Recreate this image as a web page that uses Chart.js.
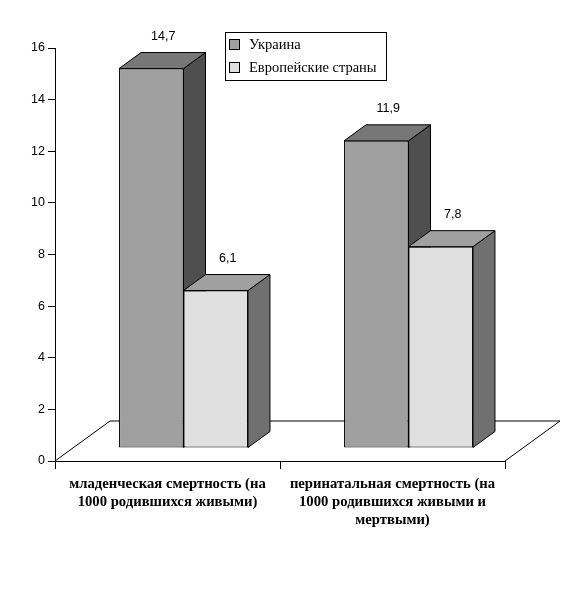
<!DOCTYPE html>
<html>
<head>
<meta charset="utf-8">
<script src="https://cdn.jsdelivr.net/npm/chart.js@4.4.0/dist/chart.umd.min.js"></script>
<style>
  html, body { margin: 0; padding: 0; background: #fff; }
  #wrap { width: 586px; height: 596px; }
</style>
</head>
<body>
<div id="wrap"><canvas id="chart"></canvas></div>
<script>
// data
const categories = [
  ["младенческая смертность (на", "1000 родившихся живыми)"],
  ["перинатальная смертность (на", "1000 родившихся живыми и", "мертвыми)"]
];
const seriesNames = ["Украина", "Европейские страны"];
const ukraineValues = [14.7, 11.9];
const europeValues = [6.1, 7.8];
const valueLabels = [["14,7", "11,9"], ["6,1", "7,8"]];

const frontColors = ["#a0a0a0", "#e0e0e0"];
const topColors = ["#777777", "#a0a0a0"];
const sideColors = ["#4f4f4f", "#707070"];

// fake 3d offsets (px)
const SHIFT_X = 16, SHIFT_Y = -13;   // bars sit a bit back on the floor
const DEPTH_X = 22, DEPTH_Y = -16;   // depth of each bar
const FLOOR_X = 55, FLOOR_Y = -40;   // depth of the floor

const bars3d = {
  id: "bars3d",
  beforeDatasetsDraw(chart) {
    const ctx = chart.ctx, a = chart.chartArea;
    ctx.save();
    ctx.lineWidth = 1;
    ctx.strokeStyle = "#000";
    // floor
    ctx.beginPath();
    ctx.moveTo(a.left, a.bottom);
    ctx.lineTo(a.left + FLOOR_X, a.bottom + FLOOR_Y);
    ctx.lineTo(a.right + FLOOR_X, a.bottom + FLOOR_Y);
    ctx.lineTo(a.right, a.bottom);
    ctx.fillStyle = "#fff";
    ctx.fill();
    ctx.stroke();

    // sides and tops, left to right
    ctx.translate(SHIFT_X, SHIFT_Y);
    const metas = chart.data.datasets.map((d, i) => chart.getDatasetMeta(i));
    for (let i = 0; i < categories.length; i++) {
      metas.forEach((meta, d) => {
        const el = meta.data[i];
        const x0 = el.x - el.width / 2, x1 = el.x + el.width / 2;
        const top = el.y, base = el.base;
        ctx.beginPath();
        ctx.moveTo(x1, top);
        ctx.lineTo(x1 + DEPTH_X, top + DEPTH_Y);
        ctx.lineTo(x1 + DEPTH_X, base + DEPTH_Y);
        ctx.lineTo(x1, base);
        ctx.closePath();
        ctx.fillStyle = sideColors[d];
        ctx.fill();
        ctx.stroke();

        ctx.beginPath();
        ctx.moveTo(x0, top);
        ctx.lineTo(x0 + DEPTH_X, top + DEPTH_Y);
        ctx.lineTo(x1 + DEPTH_X, top + DEPTH_Y);
        ctx.lineTo(x1, top);
        ctx.closePath();
        ctx.fillStyle = topColors[d];
        ctx.fill();
        ctx.stroke();
      });
    }
    ctx.restore();
  },
  beforeDatasetDraw(chart) {
    chart.ctx.save();
    chart.ctx.translate(SHIFT_X, SHIFT_Y);
  },
  afterDatasetDraw(chart) {
    chart.ctx.restore();
  },
  afterDatasetsDraw(chart) {
    const ctx = chart.ctx;
    ctx.save();
    ctx.fillStyle = "#000";
    ctx.font = "12.5px 'Liberation Sans'";
    ctx.textAlign = "center";
    ctx.textBaseline = "middle";
    chart.data.datasets.forEach((ds, d) => {
      chart.getDatasetMeta(d).data.forEach((el, i) => {
        ctx.fillText(valueLabels[d][i], el.x + SHIFT_X + DEPTH_X / 2 + 1, el.y + SHIFT_Y + DEPTH_Y - 16);
      });
    });
    ctx.restore();
  },
  afterDraw(chart) {
    // legend box
    const ctx = chart.ctx;
    ctx.save();
    ctx.lineWidth = 1;
    ctx.strokeStyle = "#000";
    ctx.fillStyle = "#fff";
    ctx.fillRect(225.5, 32.5, 161, 48);
    ctx.strokeRect(225.5, 32.5, 161, 48);
    ctx.font = "14.5px 'Liberation Serif'";
    ctx.textBaseline = "middle";
    seriesNames.forEach((name, d) => {
      const cy = 45 + d * 23;
      ctx.fillStyle = frontColors[d];
      ctx.fillRect(229.5, cy - 5.5, 10, 10);
      ctx.strokeRect(229.5, cy - 5.5, 10, 10);
      ctx.fillStyle = "#000";
      ctx.fillText(name, 249, cy);
    });
    ctx.restore();
  }
};

new Chart(document.getElementById("chart"), {
  type: "bar",
  data: {
    labels: categories,
    datasets: [
      { label: seriesNames[0], data: ukraineValues, backgroundColor: frontColors[0] },
      { label: seriesNames[1], data: europeValues, backgroundColor: frontColors[1] }
    ]
  },
  options: {
    responsive: true,
    maintainAspectRatio: false,
    animation: false,
    layout: { padding: { top: 48, right: 81, left: 0, bottom: 0 } },
    datasets: {
      bar: {
        categoryPercentage: 0.573,
        barPercentage: 1,
        borderColor: "#000",
        borderWidth: 1,
        borderSkipped: false,
        clip: false
      }
    },
    scales: {
      x: {
        grid: { drawOnChartArea: false, tickLength: 8, color: "#000", offset: true },
        border: { color: "#000" },
        ticks: {
          color: "#000",
          font: { family: "'Liberation Serif'", size: 14.7, weight: "bold", lineHeight: 1.22 },
          padding: 6,
          maxRotation: 0,
          autoSkip: false
        },
        afterFit(s) { s.height = 135; }
      },
      y: {
        min: 0,
        max: 16,
        ticks: { stepSize: 2, color: "#000", font: { family: "'Liberation Sans'", size: 12.5 }, padding: 3 },
        grid: { drawOnChartArea: false, tickLength: 7, color: "#000" },
        border: { color: "#000" },
        afterFit(s) { s.width = 55; }
      }
    },
    plugins: {
      legend: { display: false },
      tooltip: { enabled: false }
    }
  },
  plugins: [bars3d]
});
</script>
</body>
</html>
